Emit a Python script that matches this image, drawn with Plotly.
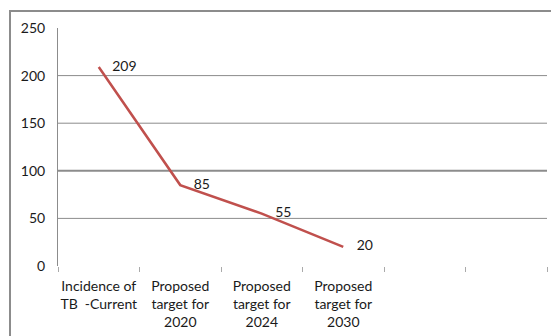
import plotly.graph_objects as go

categories = ["Incidence of<br>TB  -Current", "Proposed<br>target for<br>2020",
              "Proposed<br>target for<br>2024", "Proposed<br>target for<br>2030", " ", "  "]
values = [209, 85, 55, 20]
grid_values = [50, 100, 150, 200]
y_ticks = [0, 50, 100, 150, 200, 250]

W, H = 551, 336
ML, MR, MT, MB = 58, 4, 28, 70
pw, ph = W - ML - MR, H - MT - MB
FONT = "Lato"
TXT = "#1a1a1a"

fig = go.Figure()
fig.add_trace(go.Scatter(
    x=categories[:len(values)], y=values,
    mode="lines+markers+text",
    line=dict(color="#C0504D", width=2.5),
    marker=dict(size=20, color="rgba(0,0,0,0)"),
    text=[str(v) for v in values],
    textposition="middle right",
    textfont=dict(family=FONT, size=14, color=TXT),
    cliponaxis=False,
    hoverinfo="skip",
))

shapes = []
for g in grid_values:
    shapes.append(dict(type="line", xref="paper", yref="y", x0=0, x1=1, y0=g, y1=g,
                       line=dict(color="#8c8c8c", width=2 if g == 100 else 1),
                       layer="below"))
# outer chart border (cropped)
shapes.append(dict(type="rect", xref="paper", yref="paper",
                   x0=(10 - ML) / pw, x1=(W + 20 - ML) / pw,
                   y0=-(H + 20 - MT - ph) / ph, y1=(ph + MT - 11) / ph,
                   line=dict(color="#8c8c8c", width=2), layer="below"))

fig.update_layout(
    width=W, height=H,
    margin=dict(l=ML, r=MR, t=MT, b=MB, autoexpand=False),
    paper_bgcolor="white", plot_bgcolor="white",
    showlegend=False,
    shapes=shapes,
    font=dict(family=FONT, size=14, color=TXT),
)
fig.update_xaxes(
    type="category", categoryorder="array", categoryarray=categories,
    range=[-0.5, len(categories) - 0.5],
    showgrid=False, zeroline=False, showline=False, automargin=False,
    tickangle=0, ticklabelstandoff=10,
    ticks="outside", tickson="boundaries", ticklen=5, tickcolor="#aaaaaa", tickwidth=1,
    tickfont=dict(family=FONT, size=14, color=TXT),
)
fig.update_yaxes(
    range=[0, 250], tickvals=y_ticks, ticktext=[str(t) for t in y_ticks],
    showgrid=False, zeroline=False, showline=True, linecolor="#8c8c8c", linewidth=1,
    ticks="", ticklabelstandoff=9, automargin=False,
    tickfont=dict(family=FONT, size=14, color=TXT),
)
fig.write_html("out.html")
